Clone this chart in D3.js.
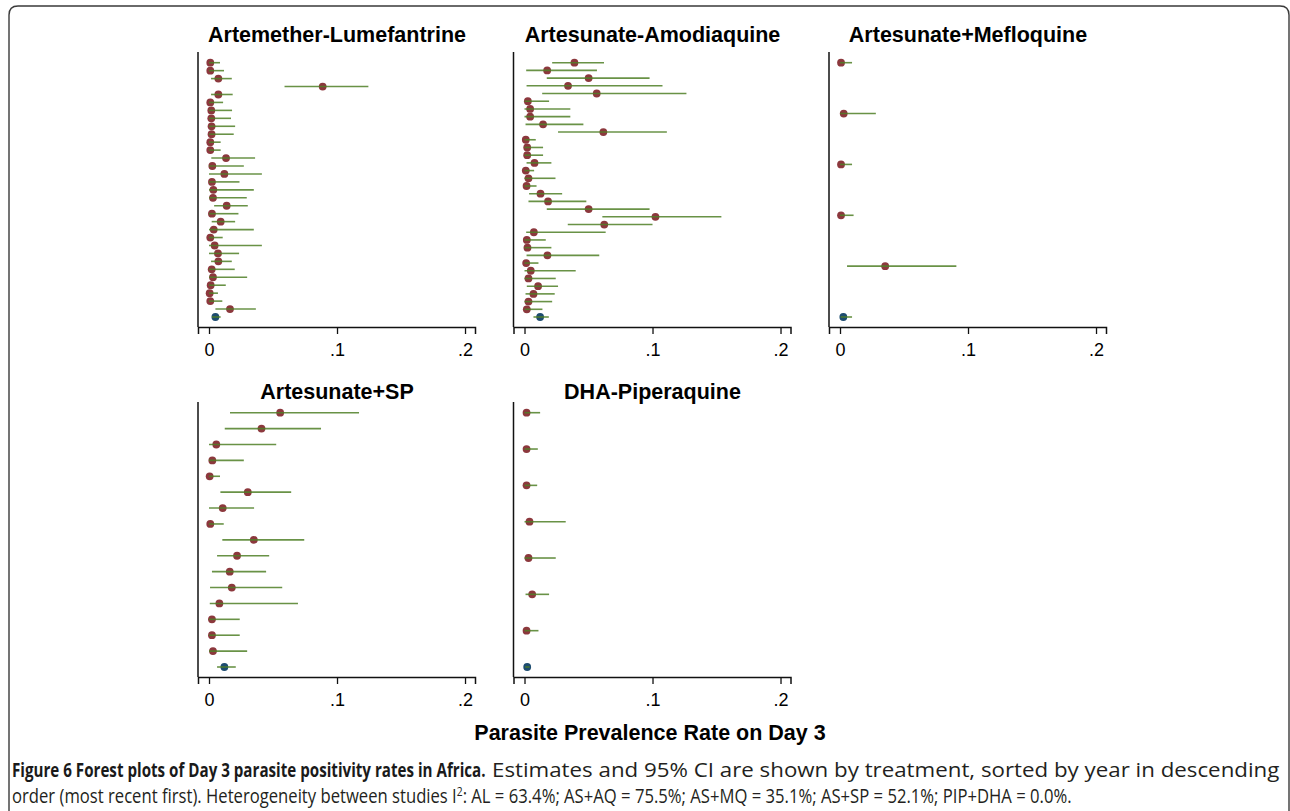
<!DOCTYPE html>
<html><head><meta charset="utf-8">
<script src="https://cdn.jsdelivr.net/npm/d3@7"></script>
<style>body{margin:0;background:#fff}svg{display:block}</style>
</head><body>
<script>
// ---- data ----
const panelTitles = ["Artemether-Lumefantrine","Artesunate-Amodiaquine","Artesunate+Mefloquine","Artesunate+SP","DHA-Piperaquine"];
const tickValues = [0, 0.1, 0.2];
const tickLabels = ["0", ".1", ".2"];

const alEst = [0.001,0.001,0.0073,0.0888,0.0073,0.001,0.0018,0.0018,0.002,0.002,0.001,0.001,0.0133,0.0026,0.012,0.0023,0.0034,0.0031,0.0138,0.0023,0.0091,0.0037,0.001,0.0044,0.007,0.0073,0.0021,0.0031,0.0013,0.0005,0.001,0.0164];
const alLo  = [0,0,0.0016,0.059,0.0016,0,0,0,0,0,0,0,0.0018,0,0,0,0,0,0.004,0,0.0021,0,0,0,0,0.0016,0,0,0,0,0,0.005];
const alHi  = [0.0086,0.0117,0.0178,0.1245,0.0185,0.011,0.018,0.0172,0.0204,0.0193,0.0091,0.0091,0.036,0.0272,0.0413,0.0238,0.035,0.0295,0.0303,0.023,0.0204,0.035,0.0107,0.0413,0.0235,0.0178,0.0201,0.0298,0.0131,0.007,0.0104,0.0366];
const alPooled = [0.005, 0.0023, 0.0091];

const aqEst = [0.039,0.0177,0.0501,0.034,0.0564,0.0026,0.0044,0.0044,0.0145,0.0616,0.001,0.0021,0.0021,0.0078,0.001,0.0031,0.0016,0.0125,0.0184,0.0501,0.1023,0.0623,0.0073,0.0018,0.0023,0.0179,0.0013,0.0049,0.0031,0.0106,0.007,0.0031,0.0018];
const aqLo  = [0.0216,0.0013,0.0174,0.0016,0.0138,0,0,0,0.0008,0.0262,0,0,0,0.0016,0,0,0,0.0036,0.0031,0.0174,0.0608,0.0338,0.0013,0,0,0.0016,0,0,0,0.0018,0.0008,0,0];
const aqHi  = [0.0621,0.0566,0.0977,0.1078,0.1265,0.0192,0.0358,0.0358,0.046,0.1112,0.0088,0.0145,0.0145,0.021,0.0075,0.0242,0.0094,0.0294,0.0483,0.0977,0.1538,0.1,0.0634,0.0166,0.021,0.0584,0.0109,0.04,0.0244,0.0262,0.0236,0.0216,0.014];
const aqPooled = [0.0122, 0.007, 0.019];

const mqEst = [0.0008,0.0029,0.0008,0.0008,0.0353];
const mqLo  = [0,0,0,0,0.0055];
const mqHi  = [0.0094,0.028,0.0094,0.0106,0.0909];
const mqPooled = [0.0026, 0.0005, 0.0094];

const spEst = [0.0556,0.041,0.0057,0.0026,0.0005,0.0303,0.0107,0.001,0.035,0.0219,0.0162,0.0178,0.0081,0.0023,0.0023,0.0031];
const spLo  = [0.0164,0.0123,0,0,0,0.0089,0,0,0.0104,0.0063,0.0023,0.0008,0.0006,0,0,0];
const spHi  = [0.1172,0.0875,0.0525,0.0272,0.0086,0.0642,0.0352,0.0115,0.0744,0.047,0.0446,0.0572,0.0695,0.024,0.024,0.0298];
const spPooled = [0.012, 0.0063, 0.0209];

const dhaEst = [0.0016,0.0016,0.0016,0.0039,0.0031,0.006,0.0016];
const dhaLo  = [0,0,0,0,0,0.0008,0];
const dhaHi  = [0.0122,0.0104,0.0099,0.0322,0.0244,0.0192,0.0109];
const dhaPooled = [0.0021, 0.0005, 0.004];

const xTitle = "Parasite Prevalence Rate on Day 3";
const capBold = "Figure 6 Forest plots of Day 3 parasite positivity rates in Africa.";
const capLine1 = "Estimates and 95% CI are shown by treatment, sorted by year in descending";
const capLine2a = "order (most recent first). Heterogeneity between studies I";
const capLine2b = ": AL = 63.4%; AS+AQ = 75.5%; AS+MQ = 35.1%; AS+SP = 52.1%; PIP+DHA = 0.0%.";

// ---- layout ----
const W = 1290, H = 811;
const svg = d3.select("body").append("svg").attr("width", W).attr("height", H);

svg.append("path")
  .attr("d", "M9,811 L9,15 Q9,6 18,6 L1280,6 Q1289,6 1289,15 L1289,811")
  .attr("fill","none").attr("stroke","#3a3a3a").attr("stroke-width",1.4);

const panels = [
  {title: panelTitles[0], est: alEst, lo: alLo, hi: alHi, pooled: alPooled, col: 0, row: 0},
  {title: panelTitles[1], est: aqEst, lo: aqLo, hi: aqHi, pooled: aqPooled, col: 1, row: 0},
  {title: panelTitles[2], est: mqEst, lo: mqLo, hi: mqHi, pooled: mqPooled, col: 2, row: 0},
  {title: panelTitles[3], est: spEst, lo: spLo, hi: spHi, pooled: spPooled, col: 0, row: 1},
  {title: panelTitles[4], est: dhaEst, lo: dhaLo, hi: dhaHi, pooled: dhaPooled, col: 1, row: 1},
];

const colLeft = [198, 513.5, 829];
const rowTop = [52, 402];
const titleBase = [42, 399];
const plotW = 277, plotH = 275;
const redC = "#8c383d", blueC = "#1d4c70", greenC = "#4f7f26";

panels.forEach(p => {
  const left = colLeft[p.col], top = rowTop[p.row], bottom = top + plotH;
  const g = svg.append("g");
  const x = d3.scaleLinear().domain([-0.0086, 0.2078]).range([left, left + plotW]);
  const n = p.est.length;
  const rows = p.est.map((e, i) => ({est: e, lo: p.lo[i], hi: p.hi[i], idx: i + 1, pooled: false}));
  rows.push({est: p.pooled[0], lo: p.pooled[1], hi: p.pooled[2], idx: n + 1, pooled: true});
  const y = d3.scaleLinear().domain([1, n + 1]).range([top + 10.7, bottom - 10]);

  g.append("line").attr("x1", left).attr("x2", left).attr("y1", top).attr("y2", bottom)
    .attr("stroke", "#111").attr("stroke-width", 1.5);

  const ax = d3.axisBottom(x).tickValues(tickValues).tickSizeOuter(0).tickSize(7)
    .tickFormat((d, i) => tickLabels[i]);
  const axg = g.append("g").attr("transform", `translate(0,${bottom})`).call(ax);
  axg.select(".domain").attr("stroke", "#111").attr("stroke-width", 1.5);
  axg.selectAll(".tick line").attr("stroke", "#111").attr("stroke-width", 1.3);
  axg.selectAll(".tick text").attr("font-family", "Liberation Sans, Arial, sans-serif")
    .attr("font-size", 18).attr("fill", "#000").attr("dy", "1.05em");

  g.selectAll("circle").data(rows).join("circle")
    .attr("cx", d => x(d.est)).attr("cy", d => y(d.idx)).attr("r", 3.9)
    .attr("fill", d => d.pooled ? blueC : redC);
  g.selectAll("line.ci").data(rows).join("line").attr("class", "ci")
    .attr("x1", d => x(d.lo)).attr("x2", d => x(d.hi))
    .attr("y1", d => y(d.idx)).attr("y2", d => y(d.idx))
    .attr("stroke", greenC).attr("stroke-width", 1.6).attr("stroke-opacity", 0.85);

  g.append("text").attr("x", x(0.1)).attr("y", titleBase[p.row])
    .attr("text-anchor", "middle").attr("font-family", "Liberation Sans, Arial, sans-serif")
    .attr("font-weight", "bold").attr("font-size", 21.5).attr("fill", "#000").text(p.title);
});

svg.append("text").attr("x", 650).attr("y", 740).attr("text-anchor", "middle")
  .attr("font-family", "Liberation Sans, Arial, sans-serif").attr("font-weight", "bold")
  .attr("font-size", 21.5).attr("fill", "#000").text(xTitle);

// caption: condensed look via horizontal scaling to the reference widths
const capFont = "Open Sans, sans-serif";
function fitText(sel, x0, y0, targetW) {
  const w = sel.node().getComputedTextLength();
  const sx = targetW / w;
  sel.attr("transform", `translate(${x0},${y0}) scale(${sx},1)`);
}
const t1 = svg.append("text").attr("font-family", capFont).attr("font-weight", "bold")
  .attr("font-size", 19.5).attr("fill", "#1a1a1a").text(capBold);
fitText(t1, 12, 777, 474);
const t2 = svg.append("text").attr("font-family", capFont)
  .attr("font-size", 19.5).attr("fill", "#231f20").text(capLine1);
fitText(t2, 492, 777, 788);
const t3 = svg.append("text").attr("font-family", capFont)
  .attr("font-size", 19.5).attr("fill", "#231f20");
t3.append("tspan").text(capLine2a);
t3.append("tspan").attr("dy", -7).attr("font-size", 12).text("2");
t3.append("tspan").attr("dy", 7).text(capLine2b);
fitText(t3, 12, 803, 1060);
</script>
</body></html>
